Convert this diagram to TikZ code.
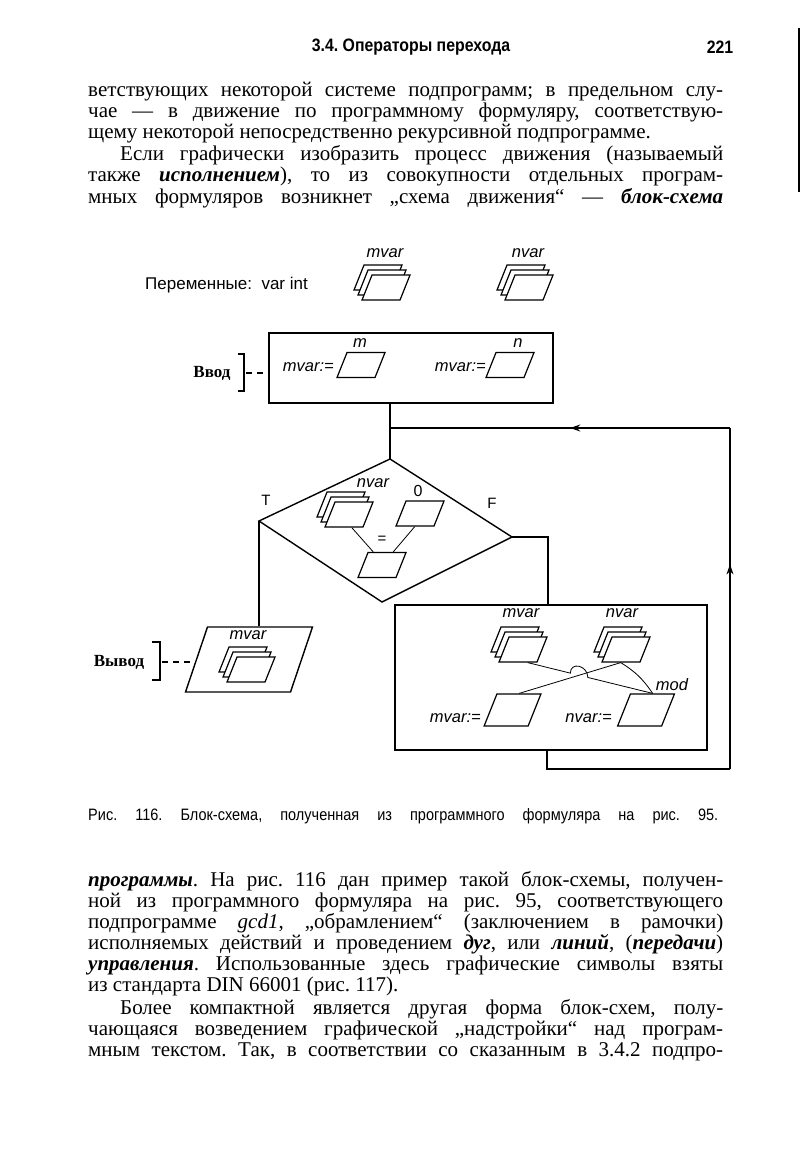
\documentclass[tikz,border=0pt]{standalone}
\usepackage{fontspec}
\setmainfont{Liberation Serif}
\newfontfamily\lsans{Liberation Sans}
\newfontfamily\hdrfont{Liberation Sans}[FakeStretch=0.88]
\usetikzlibrary{arrows.meta,decorations.markings,calc}
\frenchspacing
\newcommand\jl[1]{\makebox[635pt][s]{#1}}
\newcommand\ji[1]{\makebox[603pt][s]{#1}}
\newcommand\bi[1]{\textbf{\textit{#1}}}
\newcommand\pstack[3]{%
  \node[para] (#1c) at (#2-8,#3-10) {};
  \node[para] (#1b) at (#2-4,#3-5) {};
  \node[para] (#1) at (#2,#3) {};}
\tikzset{
  mainline/.style={line width=1.4pt},
  thinline/.style={line width=0.8pt},
  para/.style={draw, fill=white, line width=1.2pt, minimum width=38pt, minimum height=25pt, inner sep=0pt, xslant=0.4},
  bigpara/.style={para, minimum width=44pt, minimum height=32pt},
  lab/.style={font=\lsans\itshape\fontsize{16.5}{16.5}\selectfont, inner sep=0pt},
  tf/.style={font=\lsans\fontsize{15}{15}\selectfont, inner sep=0pt},
  io/.style={font=\bfseries\fontsize{17}{17}\selectfont, inner sep=0pt},
  txt/.style={anchor=base west, inner sep=0pt, font=\fontsize{21}{21}\selectfont\frenchspacing},
  arrowat/.style={postaction={decorate}, decoration={markings, mark=at position #1 with {\arrow{Stealth[length=10pt,width=7pt]}}}}
}
\begin{document}
\begin{tikzpicture}[x=1pt,y=-1pt]
\fill[white] (0,0) rectangle (802,1150);
\useasboundingbox (0,0) rectangle (802,1150);

% header
\node[font=\hdrfont\bfseries\fontsize{18}{18}\selectfont, inner sep=0pt] (hdr) at (411,47) {3.4. Операторы перехода};
\node[font=\hdrfont\bfseries\fontsize{18}{18}\selectfont, inner sep=0pt] (pg) at (720,47) {221};
\draw[line width=2pt] (799,28) -- (799,192);

% top text
\node[txt] (t1) at (88,97) {\jl{ветствующих некоторой системе подпрограмм; в предельном слу-}};
\node[txt] (t2) at (88,118) {\jl{чае — в движение по программному формуляру, соответствую-}};
\node[txt] (t3) at (88,139) {щему некоторой непосредственно рекурсивной подпрограмме.};
\node[txt] (t4) at (120,161) {\ji{Если графически изобразить процесс движения (называемый}};
\node[txt] (t5) at (88,182) {\jl{также \bi{исполнением}), то из совокупности отдельных програм-}};
\node[txt] (t6) at (88,204) {\jl{мных формуляров возникнет „схема движения“ — \bi{блок-схема}}};

% variables
\node[font=\lsans\fontsize{17}{17}\selectfont, anchor=west, inner sep=0pt] (vars) at (145,285) {Переменные:\ \ var int};
\node[lab] (lm) at (385,253) {mvar};
\pstack{sm}{386}{287.5}
\node[lab] (ln) at (528,253) {nvar};
\pstack{sn}{529}{287.5}

% input box
\node[draw, mainline, minimum width=284pt, minimum height=70pt, inner sep=0pt] (inbox) at (411,368) {};
\node[lab] (lim) at (360,343) {m};
\node[para] (pm) at (361,365) {};
\node[lab, anchor=east] (am) at (334,367) {mvar:=};
\node[lab] (lin) at (518,343) {n};
\node[para] (pn) at (510,365) {};
\node[lab, anchor=east] (an) at (486,367) {mvar:=};
\node[io] (vvod) at (212,373) {Ввод};
\coordinate (bv1) at (238,354);
\coordinate (bv2) at (238,391);
\draw[mainline] (bv1) -- (244,354) -- (244,391) -- (bv2);
\draw[mainline, dash pattern=on 6pt off 5pt] (246,373) -- (inbox.west |- 0,373);

% diamond
\coordinate (dT) at (390,459);
\coordinate (dL) at (259,521);
\coordinate (dR) at (512,537);
\coordinate (dB) at (382,602);
\draw[mainline] (dT) -- (dR) -- (dB) -- (dL) -- cycle;
\draw[mainline] (dT |- inbox.south) -- (dT);
\node[tf] (lT) at (266,500) {T};
\node[tf] (lF) at (492,503) {F};
\node[lab] (ldn) at (373,483) {nvar};
\pstack{dn}{349}{514.5}
\node[tf, font=\lsans\fontsize{16}{16}\selectfont] (l0) at (418,491) {0};
\node[para] (z0) at (420,513.5) {};
\node[tf] (leq) at (382,540) {=};
\node[para] (res) at (382,565) {};
\draw[thinline] ([xshift=8pt]dn.south) -- ([xshift=-14pt]res.north);
\draw[thinline] (z0.south) -- ([xshift=6pt]res.north);

% output
\node[draw, fill=white, mainline, minimum width=105pt, minimum height=65pt, inner sep=0pt, xslant=0.338] (outp) at (249,659.5) {};
\draw[mainline] (dL) -- (dL |- outp.north);
\node[lab] (lom) at (248,635) {mvar};
\pstack{om}{251}{669.5}
\node[io] (vyvod) at (119,662) {Вывод};
\coordinate (bw1) at (152,642);
\coordinate (bw2) at (152,680);
\draw[mainline] (bw1) -- (160,642) -- (160,680) -- (bw2);
\draw[mainline, dash pattern=on 6pt off 5pt] (162,662) -- (196,662);

% big box
\node[draw, mainline, minimum width=312pt, minimum height=145pt, inner sep=0pt] (bigbox) at (551,677.5) {};
\draw[mainline] (dR) -| ([xshift=-3pt]bigbox.north);
\node[lab] (lbm) at (521,613) {mvar};
\pstack{bm}{523}{649.5}
\node[lab] (lbn) at (622,613) {nvar};
\pstack{bn}{626}{649.5}
\node[bigpara] (pmv) at (512.5,710) {};
\node[lab, anchor=east] (amv) at (481,718) {mvar:=};
\node[bigpara] (pnv) at (646,710) {};
\node[lab, anchor=east] (anv) at (612,718) {nvar:=};
\node[lab] (lmod) at (672,685) {mod};
\coordinate (a1) at ([xshift=10pt]bm.south);
\coordinate (a2) at (pnv.north);
\coordinate (b1) at (bn.south);
\coordinate (b2) at (pmv.north);
\coordinate (X) at (intersection of a1--a2 and b1--b2);
\coordinate (h1) at ($(X)!9pt!(a1)$);
\coordinate (h2) at ($(X)!9pt!(a2)$);
\draw[thinline] (b1) -- (b2);
\draw[thinline] (a1) -- (h1) .. controls +(0,-12) and +(0,-12) .. (h2) -- (a2);
\draw[thinline] (b1) to[bend left=12] (a2);

% return path
\coordinate (rb) at (547,769);
\coordinate (rr) at (730,769);
\coordinate (rt) at (730,428);
\coordinate (rj) at (390,428);
\draw[mainline] (bigbox.south -| rb) -- (rb) -- (rr);
\draw[mainline, arrowat=0.6] (rr) -- (rt);
\draw[mainline, arrowat=0.47] (rt) -- (rj);

% caption
\node[anchor=base west, inner sep=0pt, font=\hdrfont\fontsize{16.5}{16.5}\selectfont\frenchspacing] (cap) at (88,820) {\makebox[630pt][s]{Рис. 116. Блок-схема, полученная из программного формуляра на рис. 95.}};

% bottom text
\node[txt] (u1) at (88,886) {\jl{\bi{программы}. На рис. 116 дан пример такой блок-схемы, получен-}};
\node[txt] (u2) at (88,907) {\jl{ной из программного формуляра на рис. 95, соответствующего}};
\node[txt] (u3) at (88,928) {\jl{подпрограмме \textit{gcd1}, „обрамлением“ (заключением в рамочки)}};
\node[txt] (u4) at (88,949) {\jl{исполняемых действий и проведением \bi{дуг}, или \bi{линий}, (\bi{передачи})}};
\node[txt] (u5) at (88,970) {\jl{\bi{управления}. Использованные здесь графические символы взяты}};
\node[txt] (u6) at (88,991) {из стандарта DIN 66001 (рис. 117).};
\node[txt] (u7) at (120,1014) {\ji{Более компактной является другая форма блок-схем, полу-}};
\node[txt] (u8) at (88,1035) {\jl{чающаяся возведением графической „надстройки“ над програм-}};
\node[txt] (u9) at (88,1056) {\jl{мным текстом. Так, в соответствии со сказанным в 3.4.2 подпро-}};
\end{tikzpicture}
\end{document}
